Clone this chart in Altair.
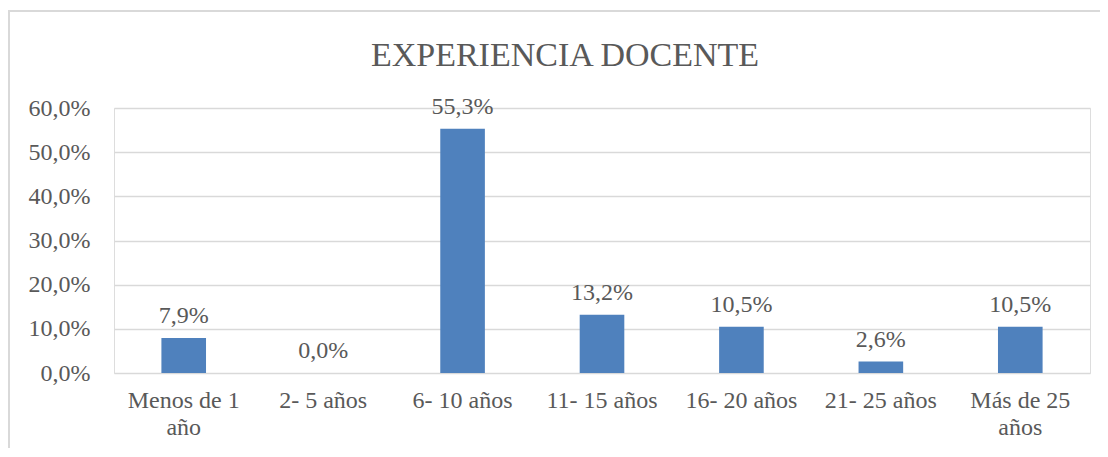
import altair as alt
import pandas as pd

categories = ["Menos de 1 año", "2- 5 años", "6- 10 años", "11- 15 años",
              "16- 20 años", "21- 25 años", "Más de 25 años"]
values = [0.079, 0.0, 0.553, 0.132, 0.105, 0.026, 0.105]
y_ticks = [0.0, 0.1, 0.2, 0.3, 0.4, 0.5, 0.6]
title_text = "EXPERIENCIA DOCENTE"

df = pd.DataFrame({"cat": categories, "val": values})

FONT = "Liberation Serif"
TXT = "#595959"
FS = 24

x_enc = alt.X("cat:N", sort=categories, title=None,
              scale=alt.Scale(paddingInner=0.68, paddingOuter=0.34),
              axis=alt.Axis(labelAngle=0, domain=False, ticks=False, labelPadding=15,
                            labelFontSize=FS, labelColor=TXT, labelFont=FONT,
                            labelLineHeight=27,
                            labelExpr="datum.label == 'Menos de 1 año' ? ['Menos de 1', 'año'] : datum.label == 'Más de 25 años' ? ['Más de 25', 'años'] : datum.label"))
y_enc = alt.Y("val:Q", title=None,
              scale=alt.Scale(domain=[0, 0.6], nice=False),
              axis=alt.Axis(values=y_ticks, domain=False, ticks=False, labelPadding=24,
                            labelFontSize=FS, labelColor=TXT, labelFont=FONT,
                            gridColor="#d9d9d9", gridWidth=1.3,
                            labelExpr="replace(format(datum.value, '.1%'), '.', ',')"))

bars = alt.Chart(df).mark_bar(color="#4F81BD").encode(x=x_enc, y=y_enc)
labels = alt.Chart(df).transform_calculate(
    lab="replace(format(datum.val, '.1%'), '.', ',')"
).mark_text(dy=-15, baseline="alphabetic", fontSize=FS, font=FONT, color=TXT).encode(
    x=alt.X("cat:N", sort=categories), y="val:Q", text="lab:N")

border = alt.Chart(df).mark_rect(fill=None, stroke="#d9d9d9", strokeWidth=2, clip=False).encode(
    x=alt.value(-105), x2=alt.value(1000), y=alt.value(-97), y2=alt.value(360))

title = alt.Chart(pd.DataFrame({"t": [title_text]})).mark_text(
    font=FONT, fontSize=34, color=TXT, baseline="alphabetic", align="center"
).encode(x=alt.value(451), y=alt.value(-42), text="t:N")

chart = alt.layer(border, bars, labels, title).properties(
    width=976, height=265,
    autosize=alt.AutoSizeParams(type="none"),
    padding={"left": 106, "top": 100, "right": 10, "bottom": 75},
).configure_view(stroke=None).configure(background="white")

chart.save("out.html", embed_options={"renderer": "svg", "actions": False})
